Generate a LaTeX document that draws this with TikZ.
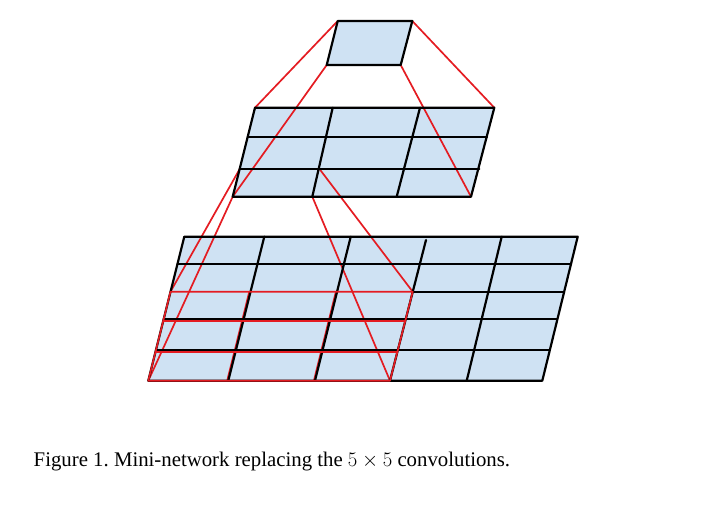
\documentclass[tikz,border=0pt]{standalone}
\usepackage[no-math]{fontspec}
\setmainfont{Liberation Serif}
\frenchspacing
\definecolor{cellfill}{RGB}{207,226,243}
\definecolor{netred}{RGB}{228,28,34}
\tikzset{
  gridline/.style={draw=black, line width=2.2pt, line cap=round, line join=round},
  redline/.style={draw=netred, line width=1.7pt, line cap=round, line join=round},
  cellarea/.style={fill=cellfill},
  captext/.style={anchor=base west, inner sep=0pt, font=\fontsize{20.8}{24}\selectfont}
}
\begin{document}
\begin{tikzpicture}[x=1pt,y=-1pt]
\useasboundingbox (0,0) rectangle (708,508);
% ---------- top square ----------
\coordinate (sTL) at (337.7,21);
\coordinate (sTR) at (412.3,21);
\coordinate (sBR) at (400.7,65);
\coordinate (sBL) at (326.7,65);
% ---------- middle grid ----------
\coordinate (mTL) at (255,107.7);
\coordinate (mTR) at (494.3,107.7);
\coordinate (mBR) at (471,196.7);
\coordinate (mBL) at (232.7,196.7);
\coordinate (mL1) at (247.7,136.7);
\coordinate (mR1) at (487,136.7);
\coordinate (mL2) at (239.7,169);
\coordinate (mR2) at (479.3,169);
\coordinate (mV1t) at (332.7,107.7);
\coordinate (mV1b) at (312.3,196.7);
\coordinate (mV2t) at (420,107.7);
\coordinate (mV2b) at (396.7,196.7);
\coordinate (mX) at (319.5,169);
% ---------- lower grid ----------
\coordinate (lTL) at (184.3,236.7);
\coordinate (lTR) at (577.7,236.7);
\coordinate (lBR) at (542.3,380.7);
\coordinate (lBL) at (148.3,380.7);
\coordinate (lL1) at (177.4,264.3);
\coordinate (lR1) at (570.8,264.3);
\coordinate (lL2) at (170.5,291.7);
\coordinate (lR2) at (564,291.7);
\coordinate (lL3) at (163.7,319);
\coordinate (lR3) at (556.5,319);
\coordinate (lL4) at (156,350);
\coordinate (lR4) at (549.6,350);
\coordinate (lV1t) at (264.3,236.7);
\coordinate (lV1b) at (228.3,380.7);
\coordinate (lV2t) at (350.7,236.7);
\coordinate (lV2b) at (315,380.7);
\coordinate (lV3t) at (426,240);
\coordinate (lV3b) at (390,380.7);
\coordinate (lV4t) at (501.7,236.7);
\coordinate (lV4b) at (466.7,380.7);
% red receptive region in lower grid
\coordinate (rTL) at (170.5,291.7);
\coordinate (rTR) at (412.7,291.7);
\coordinate (rBR) at (390,380.7);
\coordinate (rBL) at (148.3,380.7);
\coordinate (rL1) at (163.2,321);
\coordinate (rR1) at (405.3,321);
\coordinate (rL2) at (155.5,352.3);
\coordinate (rR2) at (397.4,352.3);
\coordinate (rV1t) at (249.3,291.7);
\coordinate (rV1b) at (227.2,380.7);
\coordinate (rV2t) at (335.9,291.7);
\coordinate (rV2b) at (313.9,380.7);

% fills
\path[cellarea] (sTL) -- (sTR) -- (sBR) -- (sBL) -- cycle;
\path[cellarea] (mTL) -- (mTR) -- (mBR) -- (mBL) -- cycle;
\path[cellarea] (lTL) -- (lTR) -- (lBR) -- (lBL) -- cycle;

% red connectors top -> middle
\draw[redline] (sTL) -- (mTL);
\draw[redline] (sTR) -- (mTR);
\draw[redline] (sBL) -- (mBL);
\draw[redline] (sBR) -- (mBR);

% red connectors middle -> lower
\draw[redline] (mL2) -- (rTL);
\draw[redline] (mX) -- (rTR);
\draw[redline] (mBL) -- (rBL);
\draw[redline] (mV1b) -- (rBR);

% red interior verticals (under black)
\draw[redline] (rV1t) -- (rV1b);
\draw[redline] (rV2t) -- (rV2b);

% black grids
\draw[gridline] (sTL) -- (sTR) -- (sBR) -- (sBL) -- cycle;

\draw[gridline] (mTL) -- (mTR) -- (mBR) -- (mBL) -- cycle;
\draw[gridline] (mL1) -- (mR1);
\draw[gridline] (mL2) -- (mR2);
\draw[gridline] (mV1t) -- (mV1b);
\draw[gridline] (mV2t) -- (mV2b);

\draw[gridline] (lTL) -- (lTR) -- (lBR) -- (lBL) -- cycle;
\draw[gridline] (lL1) -- (lR1);
\draw[gridline] (rTR) -- (lR2);
\draw[gridline] (lL3) -- (lR3);
\draw[gridline] (lL4) -- (lR4);
\draw[gridline] (lV1t) -- (lV1b);
\draw[gridline] (lV2t) -- (lV2b);
\draw[gridline] (lV3t) -- (lV3b);
\draw[gridline] (lV4t) -- (lV4b);

% red region outline and interior lines
\draw[redline] (rTL) -- (rTR) -- (rBR) -- (rBL) -- cycle;
\draw[redline] (rL1) -- (rR1);
\draw[redline] (rL2) -- (rR2);

% caption
\node[captext] (cap) at (33.5,466.7) {Figure 1. Mini-network replacing the $5\times5$ convolutions.};
\end{tikzpicture}
\end{document}
